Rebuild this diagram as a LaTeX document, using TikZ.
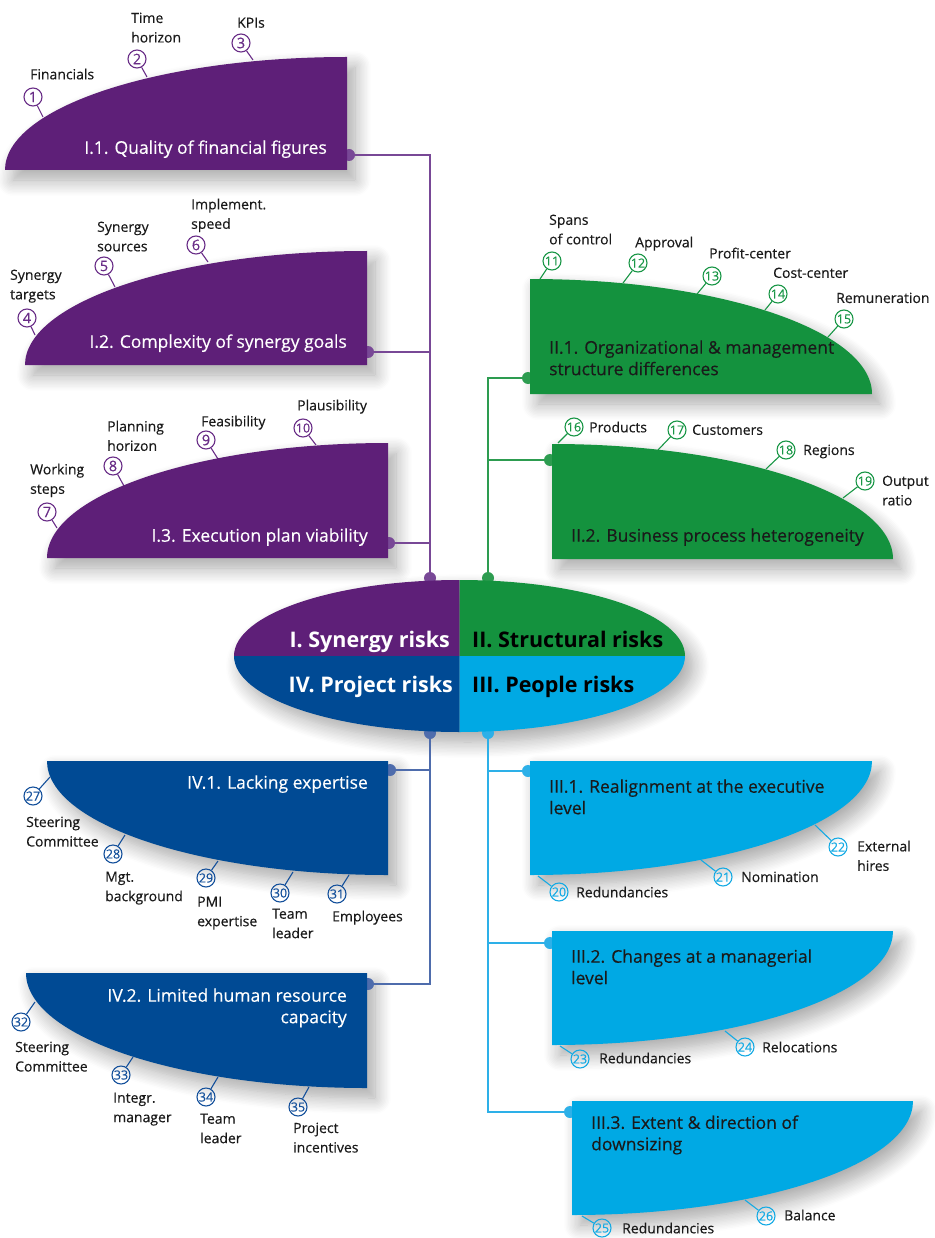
\documentclass[tikz,border=0pt]{standalone}
\usepackage{fontspec}
\setmainfont{Open Sans}[UprightFeatures={FakeBold=0.35}]
\usetikzlibrary{shadows.blur}
\definecolor{cpur}{RGB}{94,31,120}
\definecolor{cgrn}{RGB}{20,146,62}
\definecolor{cdbl}{RGB}{0,74,148}
\definecolor{clbl}{RGB}{0,169,228}
\definecolor{lpur}{RGB}{120,72,150}
\definecolor{lgrn}{RGB}{45,156,80}
\definecolor{ldbl}{RGB}{78,108,172}
\definecolor{llbl}{RGB}{45,176,232}
\definecolor{npur}{RGB}{105,45,135}
\definecolor{ngrn}{RGB}{25,150,70}
\definecolor{ndbl}{RGB}{20,80,155}
\definecolor{nlbl}{RGB}{20,170,228}
\definecolor{ctxt}{RGB}{26,26,26}
\newcommand\rshape[7]{\path[#1] (#2) arc[start angle=#3,end angle=#4,x radius=#5pt,y radius=#6pt] -- ++(#7) -- cycle;}
\newcommand\itm[6]{%
  \node[num=#2] (n#1) at (#3) {\ifnum#1>9 \fontsize{12.5}{12.5}\selectfont\fi #1};
  \coordinate (e#1) at (#4);
  \draw[tick=#2] (n#1) -- (e#1);
  \node[lbl] (t#1) at (#5) {#6};}
\begin{document}
\begin{tikzpicture}[x=1pt,y=-1pt,
  shd/.style={blur shadow={shadow xshift=8pt,shadow yshift=-10pt,shadow blur radius=16pt,shadow blur steps=12,shadow opacity=35}},
  num/.style={circle,draw=#1,text=#1,line width=1.1pt,minimum size=18pt,inner sep=0pt,font=\fontsize{14.5}{14.5}\selectfont},
  tick/.style={draw=#1,line width=1.1pt},
  conn/.style={draw=#1,line width=2pt},
  dot/.style={circle,fill=#1,inner sep=0pt,minimum size=12pt},
  lbl/.style={anchor=north west,yshift=5.5pt,inner sep=0pt,align=left,text=ctxt,font=\fontsize{14}{19.5}\selectfont},
  ttlL/.style={anchor=north west,inner sep=0pt,align=left,font=\fontsize{17.5}{21.5}\selectfont},
  ttlR/.style={anchor=north east,inner sep=0pt,align=right,font=\fontsize{17.5}{21.5}\selectfont},
  big/.style={inner sep=0pt,font=\bfseries\fontsize{21.5}{21.5}\selectfont}]
\useasboundingbox (0,0) rectangle (934,1238);
% shadows
\rshape{shd}{5,170}{180}{90}{342}{113}{0,113}
\rshape{shd}{25,365}{180}{90}{342}{114}{0,114}
\rshape{shd}{47,558}{180}{90}{341}{115}{0,115}
\rshape{shd}{530,279}{90}{0}{342}{115}{-342,0}
\rshape{shd}{552,444}{90}{0}{341}{115}{-341,0}
\rshape{shd}{47,761}{180}{270}{341}{114}{0,-114}
\rshape{shd}{26,973}{180}{270}{341}{115}{0,-115}
\rshape{shd}{872,761}{0}{-90}{342}{114}{0,-114}
\rshape{shd}{893,931}{0}{-90}{341}{114}{0,-114}
\rshape{shd}{913,1101}{0}{-90}{341}{114}{0,-114}
\path[shd] (459.5,656) ellipse [x radius=225.5pt,y radius=76pt];
% connector dots
\node[dot=lpur] (pE) at (430,578) {};
\node[dot=lpur] (pd1) at (349,155) {};
\node[dot=lpur] (pd2) at (368,352) {};
\node[dot=lpur] (pd3) at (389,543) {};
\node[dot=lgrn] (gE) at (488,578) {};
\node[dot=lgrn] (gd1) at (528,378) {};
\node[dot=lgrn] (gd2) at (550,460) {};
\node[dot=ldbl] (bE) at (430,733) {};
\node[dot=ldbl] (bd1) at (390,770) {};
\node[dot=ldbl] (bd2) at (368,984) {};
\node[dot=llbl] (cE) at (488,733) {};
\node[dot=llbl] (cd1) at (528,771) {};
\node[dot=llbl] (cd2) at (550,943) {};
\node[dot=llbl] (cd3) at (570,1112) {};
% connectors
\draw[conn=lpur] (pd1.center) -| (pE.center);
\draw[conn=lpur] (pd2.center) -- (pd2.center -| pE.center);
\draw[conn=lpur] (pd3.center) -- (pd3.center -| pE.center);
\draw[conn=lgrn] (gd1.center) -| (gE.center);
\draw[conn=lgrn] (gd2.center) -- (gd2.center -| gE.center);
\draw[conn=ldbl] (bd2.center) -| (bE.center);
\draw[conn=ldbl] (bd1.center) -- (bd1.center -| bE.center);
\draw[conn=llbl] (cd3.center) -| (cE.center);
\draw[conn=llbl] (cd1.center) -- (cd1.center -| cE.center);
\draw[conn=llbl] (cd2.center) -- (cd2.center -| cE.center);
% numbered items
\itm{1}{npur}{33,97}{43,117}{30,74}{Financials}
\itm{2}{npur}{137,59}{147,77}{131,18}{Time\\horizon}
\itm{3}{npur}{241,43}{253,60}{237,23}{KPIs}
\itm{4}{npur}{27,318}{35,335}{10,275}{Synergy\\targets}
\itm{5}{npur}{104,266}{115,287}{97,227}{Synergy\\sources}
\itm{6}{npur}{196,245}{208,262}{191,204}{Implement.\\speed}
\itm{7}{npur}{47,512}{57,528}{30,469}{Working\\steps}
\itm{8}{npur}{113,466}{124,486}{107,426}{Planning\\horizon}
\itm{9}{npur}{206,440}{218,459}{201,421}{Feasibility}
\itm{10}{npur}{303,428}{316,445}{297,405}{Plausibility}
\itm{11}{ngrn}{552,261}{540,279}{549,220}{Spans\\of control}
\itm{12}{ngrn}{638,263}{623,283}{635,242}{Approval}
\itm{13}{ngrn}{712,276}{697,294}{709,253}{Profit-center}
\itm{14}{ngrn}{778,294}{765,310}{773,273}{Cost-center}
\itm{15}{ngrn}{844,319}{828,337}{836,298}{Remuneration}
\itm{16}{ngrn}{574,427}{558,443}{589,427}{Products}
\itm{17}{ngrn}{677,430}{658,450}{692,430}{Customers}
\itm{18}{ngrn}{786,450}{766,469}{803,450}{Regions}
\itm{19}{ngrn}{865,481}{843,498}{882,481}{Output\\ratio}
\itm{20}{nlbl}{559,892}{538,876}{576,892}{Redundancies}
\itm{21}{nlbl}{723,877}{701,860}{741,877}{Nomination}
\itm{22}{nlbl}{838,847}{815,825}{857,846}{External\\hires}
\itm{23}{nlbl}{580,1059}{560,1046}{599,1058}{Redundancies}
\itm{24}{nlbl}{745,1047}{725,1031}{762,1047}{Relocations}
\itm{25}{nlbl}{602,1228}{582,1216}{622,1228}{Redundancies}
\itm{26}{nlbl}{766,1216}{745,1200}{784,1215}{Balance}
\itm{27}{ndbl}{33,796}{50,777}{26,822}{Steering\\Committee}
\itm{28}{ndbl}{113,854}{125,835}{105,877}{Mgt.\\background}
\itm{29}{ndbl}{206,878}{218,861}{197,902}{PMI\\expertise}
\itm{30}{ndbl}{280,893}{293,872}{272,914}{Team\\leader}
\itm{31}{ndbl}{337,894}{349,875}{332,916}{Employees}
\itm{32}{ndbl}{21,1022}{35,1002}{15,1047}{Steering\\Committee}
\itm{33}{ndbl}{121,1075}{133,1057}{113,1098}{Integr.\\manager}
\itm{34}{ndbl}{206,1097}{218,1077}{200,1119}{Team\\leader}
\itm{35}{ndbl}{298,1107}{309,1087}{293,1128}{Project\\incentives}
% shapes
\rshape{fill=cpur}{5,170}{180}{90}{342}{113}{0,113}
\rshape{fill=cpur}{25,365}{180}{90}{342}{114}{0,114}
\rshape{fill=cpur}{47,558}{180}{90}{341}{115}{0,115}
\rshape{fill=cgrn}{530,279}{90}{0}{342}{115}{-342,0}
\rshape{fill=cgrn}{552,444}{90}{0}{341}{115}{-341,0}
\rshape{fill=cdbl}{47,761}{180}{270}{341}{114}{0,-114}
\rshape{fill=cdbl}{26,973}{180}{270}{341}{115}{0,-115}
\rshape{fill=clbl}{872,761}{0}{-90}{342}{114}{0,-114}
\rshape{fill=clbl}{893,931}{0}{-90}{341}{114}{0,-114}
\rshape{fill=clbl}{913,1101}{0}{-90}{341}{114}{0,-114}
% central ellipse
\coordinate (C) at (459.5,656);
\fill[cpur] (C) -- (234,656) arc[start angle=180,end angle=90,x radius=225.5pt,y radius=76pt] -- cycle;
\fill[cgrn] (C) -- (685,656) arc[start angle=0,end angle=90,x radius=225.5pt,y radius=76pt] -- cycle;
\fill[cdbl] (C) -- (234,656) arc[start angle=180,end angle=270,x radius=225.5pt,y radius=76pt] -- cycle;
\fill[clbl] (C) -- (685,656) arc[start angle=0,end angle=-90,x radius=225.5pt,y radius=76pt] -- cycle;
\node[big,text=white,anchor=base east] (q1) at (450,647) {I. Synergy risks};
\node[big,text=black,anchor=base west] (q2) at (472,647) {II. Structural risks};
\node[big,text=white,anchor=base east] (q4) at (453,692) {IV. Project risks};
\node[big,text=black,anchor=base west] (q3) at (472,692) {III. People risks};
% titles
\node[ttlR,text=white] (s11) at (327,140.2) {I.1. Quality of financial figures};
\node[ttlR,text=white] (s12) at (347,334.2) {I.2. Complexity of synergy goals};
\node[ttlR,text=white] (s13) at (368,528.2) {I.3. Execution plan viability};
\node[ttlL,text=ctxt] (s21) at (549,340.2) {II.1. Organizational \& management\\structure differences};
\node[ttlL,text=ctxt] (s22) at (571,528.2) {II.2. Business process heterogeneity};
\node[ttlR,text=white] (s41) at (368,775.2) {IV.1. Lacking expertise};
\node[ttlR,text=white] (s42) at (347,988.2) {IV.2. Limited human resource\\capacity};
\node[ttlL,text=ctxt] (s31) at (549,779.2) {III.1. Realignment at the executive\\level};
\node[ttlL,text=ctxt] (s32) at (571,949.2) {III.2. Changes at a managerial\\level};
\node[ttlL,text=ctxt] (s33) at (591,1115.2) {III.3. Extent \& direction of\\downsizing};
\end{tikzpicture}
\end{document}
